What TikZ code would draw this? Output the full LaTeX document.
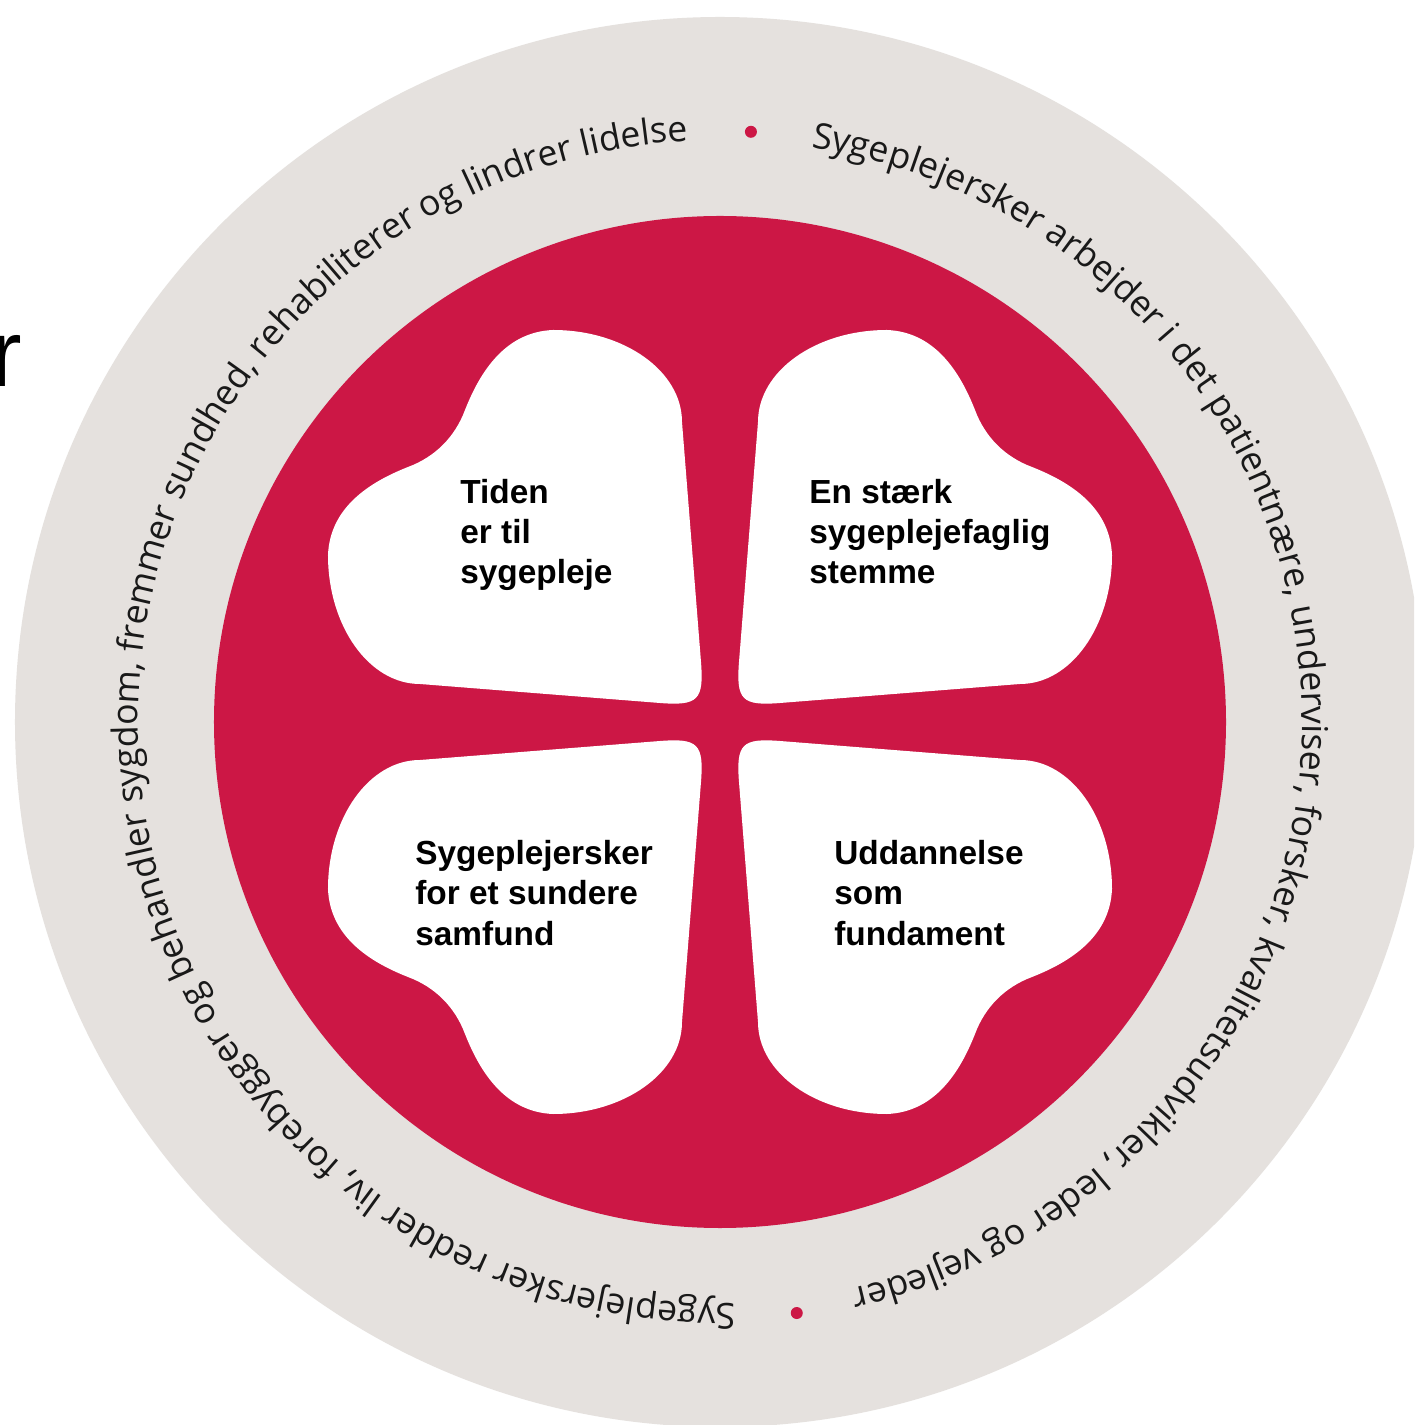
\documentclass[tikz,border=0pt]{standalone}
\usepackage{fontspec}
\setsansfont{Liberation Sans}
\newfontfamily\ringfont{Open Sans}
\usetikzlibrary{decorations.text}

\definecolor{clover}{HTML}{CC1745}
\definecolor{ringgrey}{HTML}{E5E1DE}

% one leaf of the clover (top left), the others are mirrored
\newcommand{\leafpath}{(-19,60) -- (-38,300)
  .. controls (-38,351) and (-96,392) .. (-167,392)
  .. controls (-215,390) and (-240,350) .. (-255,312)
  .. controls (-265,285) and (-285,265) .. (-312,255)
  .. controls (-350,240) and (-390,215) .. (-392,167)
  .. controls (-392,96) and (-351,38) .. (-300,38)
  -- (-60,19) .. controls (-22,16) and (-16,22) .. cycle}

\tikzset{
  leaf/.style={fill=white},
  leaftext/.style={anchor=base west, align=left, inner sep=0pt,
    font=\sffamily\bfseries\fontsize{19}{23}\selectfont},
  ringtext/.style={decorate, decoration={text along path, text align=left,
    text={|\ringfont\fontsize{20.3}{24}\selectfont\color{black!90}|#1}}},
}

\begin{document}
\begin{tikzpicture}[x=0.02cm, y=0.02cm]
    \useasboundingbox (-720,-703) rectangle (694,722);
    \fill[white] (-720,-703) rectangle (694,722);
    \clip (-720,-703) rectangle (694,722);

    \fill[ringgrey] (0,0) circle[radius=705];
    \fill[clover] (0,0) circle[radius=506];

    \foreach \sx/\sy in {1/1,-1/1,1/-1,-1/-1}
        \fill[leaf, xscale=\sx, yscale=\sy] \leafpath;

    % base anchor sits on the last line
    \node[leaftext] (tiden) at (-260,138) {Tiden\\er til\\sygepleje};
    \node[leaftext] (stemme) at (89,138) {En stærk\\sygeplejefaglig\\stemme};
    \node[leaftext] (samfund) at (-305,-223) {Sygeplejersker\\for et sundere\\samfund};
    \node[leaftext] (fundament) at (114,-223) {Uddannelse\\som\\fundament};

    % text round the ring, both clockwise
    \path[ringtext={Sygeplejersker arbejder i det patientnære, underviser, forsker, kvalitetsudvikler, leder og vejleder}]
        (81:582) arc[start angle=81, end angle=-100, radius=582];
    \path[ringtext={Sygeplejersker redder liv, forebygger og behandler sygdom, fremmer sundhed, rehabiliterer og lindrer lidelse}]
        (-88.5:582) arc[start angle=-88.5, end angle=-280, radius=582];

    \fill[clover] (87:591) circle[radius=6];
    \fill[clover] (-82.6:596) circle[radius=6];

    \node[anchor=base west, inner sep=0pt, font=\sffamily\fontsize{54}{54}\selectfont] (cut) at (-730,335) {r};
\end{tikzpicture}
\end{document}
